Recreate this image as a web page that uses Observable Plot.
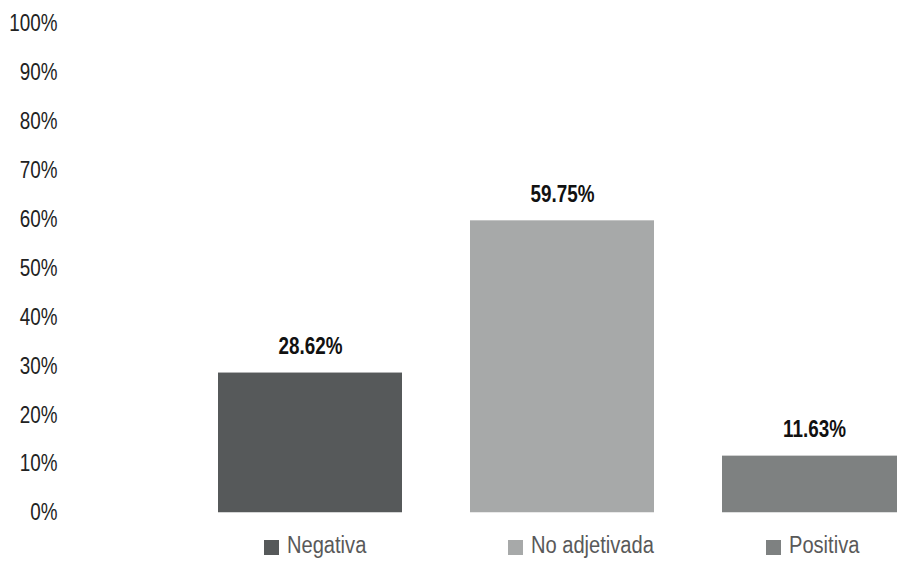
<!DOCTYPE html>
<html>
<head>
<meta charset="utf-8">
<script src="https://cdn.jsdelivr.net/npm/d3@7"></script>
<script src="https://cdn.jsdelivr.net/npm/@observablehq/plot@0.6"></script>
<style>
  html, body { margin: 0; padding: 0; background: #fff; overflow: hidden; }
  #wrap { position: relative; width: 897px; }
  .legend { position: relative; height: 32px; width: 897px; font-family: "Liberation Sans", Arial, sans-serif; font-size: 23.5px; color: #595959; }
  .item { position: absolute; top: 0; height: 32px; white-space: nowrap; }
  .sw { position: absolute; left: 0; top: 10px; width: 15px; height: 15px; }
  .txt { position: absolute; left: 23px; top: 2px; line-height: 26px; transform: scaleX(0.855); transform-origin: 0 50%; }
</style>
</head>
<body>
<div id="wrap"></div>
<script>
const categories = ["Negativa", "No adjetivada", "Positiva"];
const values = [28.62, 59.75, 11.63];
const labels = ["28.62%", "59.75%", "11.63%"];
const colors = ["#56595a", "#a7a9a9", "#7e8181"];
const yTicks = [0, 10, 20, 30, 40, 50, 60, 70, 80, 90, 100];

const data = categories.map((c, i) => ({cat: c, value: values[i], label: labels[i]}));
const FONT = '"Liberation Sans", Arial, sans-serif';

const chart = Plot.plot({
  width: 897,
  height: 530,
  marginTop: 23.5,
  marginBottom: 17.5,
  marginLeft: 60,
  marginRight: 0,
  style: {fontFamily: FONT, fontSize: "23px", color: "#222", background: "#fff"},
  x: {domain: categories, range: [218, 906], paddingInner: 68 / 252, paddingOuter: 0, axis: null},
  y: {domain: [0, 100], axis: null},
  color: {domain: categories, range: colors},
  marks: [
    Plot.axisY({ticks: yTicks, tickSize: 0, tickPadding: 3, tickFormat: d => d + "%", fill: "#222", fontSize: 23, label: null}),
    Plot.barY(data, {x: "cat", y: "value", fill: "cat", clip: true}),
    Plot.text(data, {x: "cat", y: "value", text: "label", dy: -26, fontWeight: "bold", fontSize: 23, fill: "#111"})
  ]
});
// condense glyphs horizontally around each text's anchor
chart.querySelectorAll("text").forEach(t => {
  const tr = t.getAttribute("transform") || "";
  t.setAttribute("transform", tr + " scale(0.82,1)");
});
document.getElementById("wrap").appendChild(chart);

const legend = document.createElement("div");
legend.className = "legend";
const legendLefts = [264, 508, 766];
categories.forEach((c, i) => {
  const it = document.createElement("div");
  it.className = "item";
  it.style.left = legendLefts[i] + "px";
  const sw = document.createElement("span");
  sw.className = "sw";
  sw.style.background = colors[i];
  const t = document.createElement("span");
  t.className = "txt";
  t.textContent = c;
  it.appendChild(sw);
  it.appendChild(t);
  legend.appendChild(it);
});
document.getElementById("wrap").appendChild(legend);
</script>
</body>
</html>
